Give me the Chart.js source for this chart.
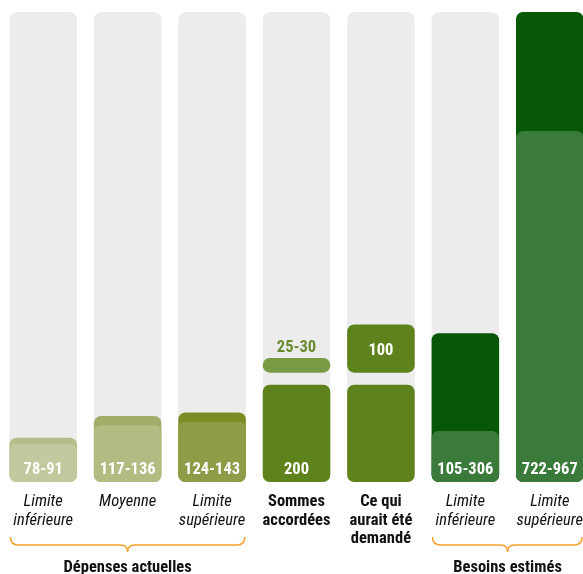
<!DOCTYPE html>
<html>
<head>
<meta charset="utf-8">
<script src="https://cdn.jsdelivr.net/npm/chart.js@4"></script>
<style>
html,body{margin:0;padding:0;overflow:hidden;background:#fff;}
#wrap{width:592px;height:574px;position:relative;}
</style>
</head>
<body>
<div id="wrap"><canvas id="c"></canvas></div>
<script>
const categories = [
  ['Limite', 'inférieure'],
  ['Moyenne'],
  ['Limite', 'supérieure'],
  ['Sommes', 'accordées'],
  ['Ce qui', 'aurait été', 'demandé'],
  ['Limite', 'inférieure'],
  ['Limite', 'supérieure']
];
const lowValues = [78, 117, 124, null, null, 105, 722];
const highValues = [91, 136, 143, 200, 200, 306, 967];
const extraStart = [null, null, null, 225, 225, null, null];
const extraEnd = [null, null, null, 255, 324, null, null];
const backgroundMax = [967, 967, 967, 967, 967, 967, 967];
const bottomLabels = ['78-91', '117-136', '124-143', '200', '', '105-306', '722-967'];
const extraLabels = [null, null, null, '25-30', '100', null, null];
const boldCategories = [false, false, false, true, true, false, false];
const groups = [
  { label: 'Dépenses actuelles', from: 0, to: 2 },
  { label: 'Besoins estimés', from: 5, to: 6 }
];

const FONT = '"Roboto Condensed", "Liberation Sans Narrow", "DejaVu Sans Condensed", sans-serif';
const FS = 16.5;
const lowColors = ['#c3c99e', '#b2bb82', '#8e9b47', null, null, '#3a7a3a', '#3a7a3a'];
const highColors = ['#b5bd8a', '#a3ad6a', '#7a8c24', '#5e821c', '#5e821c', '#065706', '#065706'];
const extraColors = [null, null, null, '#799a45', '#5e821c', null, null];

const extraData = extraStart.map((s, i) => (s === null ? null : [s, extraEnd[i]]));

const labelPlugin = {
  id: 'labelPlugin',
  afterDatasetsDraw(chart) {
    const ctx = chart.ctx;
    const highMeta = chart.getDatasetMeta(1);
    const extraMeta = chart.getDatasetMeta(2);
    ctx.save();
    ctx.textAlign = 'center';
    ctx.textBaseline = 'alphabetic';
    ctx.font = 'bold ' + FS + 'px ' + FONT;
    bottomLabels.forEach((t, i) => {
      if (!t) return;
      const el = highMeta.data[i];
      ctx.fillStyle = '#ffffff';
      ctx.fillText(t, el.x, el.base - 8);
    });
    extraLabels.forEach((t, i) => {
      if (!t) return;
      const el = extraMeta.data[i];
      const top = Math.min(el.y, el.base);
      const bot = Math.max(el.y, el.base);
      if (bot - top < 24) {
        ctx.fillStyle = '#6a8a2e';
        ctx.fillText(t, el.x, top - 6);
      } else {
        ctx.fillStyle = '#ffffff';
        ctx.fillText(t, el.x, (top + bot) / 2 + 6);
      }
    });
    ctx.restore();
  },
  afterDraw(chart) {
    const ctx = chart.ctx;
    const meta = chart.getDatasetMeta(3);
    const yLine = 545;
    ctx.save();
    ctx.strokeStyle = '#f2a22e';
    ctx.lineWidth = 1.5;
    groups.forEach(g => {
      const a = meta.data[g.from];
      const b = meta.data[g.to];
      const x1 = a.x - a.width / 2 + 1;
      const x2 = Math.min(b.x + b.width / 2 - 1, 582);
      const xm = (a.x - a.width / 2 + b.x + b.width / 2) / 2;
      ctx.beginPath();
      ctx.moveTo(x1, yLine - 8);
      ctx.quadraticCurveTo(x1, yLine, x1 + 8, yLine);
      ctx.lineTo(xm - 7, yLine);
      ctx.quadraticCurveTo(xm, yLine, xm, yLine + 7);
      ctx.quadraticCurveTo(xm, yLine, xm + 7, yLine);
      ctx.lineTo(x2 - 8, yLine);
      ctx.quadraticCurveTo(x2, yLine, x2, yLine - 8);
      ctx.stroke();
      ctx.fillStyle = '#111111';
      ctx.font = 'bold ' + FS + 'px ' + FONT;
      ctx.textAlign = 'center';
      ctx.textBaseline = 'alphabetic';
      ctx.fillText(g.label, xm, 572);
    });
    ctx.restore();
  }
};

const common = {
  barPercentage: 0.8,
  categoryPercentage: 1.0,
  grouped: false,
  borderSkipped: false
};

new Chart(document.getElementById('c'), {
  type: 'bar',
  data: {
    labels: categories,
    datasets: [
      Object.assign({ data: lowValues, backgroundColor: lowColors, borderRadius: 7 }, common),
      Object.assign({ data: highValues, backgroundColor: highColors, borderRadius: 7 }, common),
      Object.assign({ data: extraData, backgroundColor: extraColors, borderRadius: 7 }, common),
      Object.assign({ data: backgroundMax, backgroundColor: '#ececec', borderRadius: 8 }, common)
    ]
  },
  options: {
    responsive: true,
    maintainAspectRatio: false,
    animation: false,
    layout: { padding: { top: 12, left: 1, right: 0, bottom: 0 } },
    plugins: { legend: { display: false }, tooltip: { enabled: false } },
    scales: {
      y: { display: false, min: 0, max: 967 },
      x: {
        grid: { display: false, drawTicks: false },
        border: { display: false },
        afterFit: (scale) => {
          scale.height = 92;
          scale.paddingLeft = 0;
          scale.paddingRight = 0;
        },
        ticks: {
          padding: 11,
          maxRotation: 0,
          autoSkip: false,
          color: '#111111',
          font: (c) => ({
            family: FONT,
            size: FS,
            style: boldCategories[c.index] ? 'normal' : 'italic',
            weight: boldCategories[c.index] ? 'bold' : 'normal',
            lineHeight: 1.12
          })
        }
      }
    }
  },
  plugins: [labelPlugin]
});
</script>
</body>
</html>
